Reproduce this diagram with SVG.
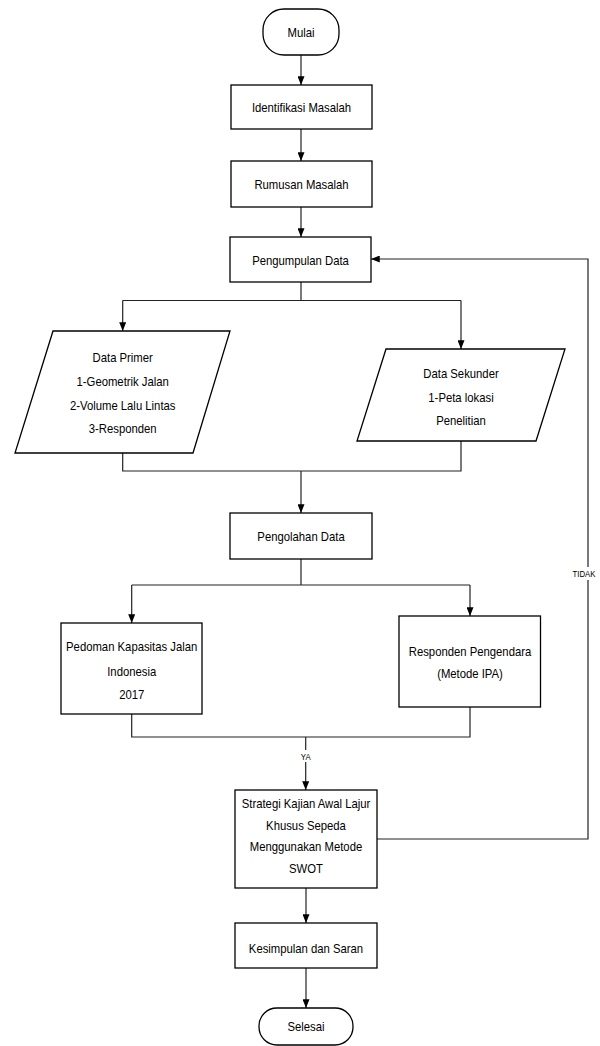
<svg xmlns="http://www.w3.org/2000/svg" width="600" height="1046" viewBox="0 0 600 1046">
<style>
.s{fill:#fff;stroke:#000;stroke-width:1.3}
.t{font-family:"Liberation Sans",Arial,sans-serif;font-size:13px;fill:#000;text-anchor:middle}
.sm{font-family:"Liberation Sans",Arial,sans-serif;font-size:9px;fill:#000;text-anchor:middle}
.c{fill:none;stroke:#222;stroke-width:1.2}
.a{marker-end:url(#ah)}
</style>
<defs>
<marker id="ah" viewBox="0 0 10 8" refX="10" refY="4" markerWidth="9" markerHeight="7" markerUnits="userSpaceOnUse" orient="auto">
<path d="M0,0 L10,4 L0,8 z" fill="#000"/>
</marker>
</defs>
<rect width="600" height="1046" fill="#fff"/>
<g id="connectors">
<path class="c a" d="M301,55 V85"/>
<path class="c a" d="M301,129 V161"/>
<path class="c a" d="M301,207 V237"/>
<path class="c" d="M301,282 V300.5 M122.7,300.5 H461"/>
<path class="c a" d="M122.7,300.5 V331"/>
<path class="c a" d="M461,300.5 V349"/>
<path class="c" d="M122.7,453 V471 H461 V441"/>
<path class="c a" d="M301,471 V513"/>
<path class="c" d="M301,559 V585 M131.7,585 H470"/>
<path class="c a" d="M131.7,585 V623"/>
<path class="c a" d="M470,585 V616"/>
<path class="c" d="M131.7,714 V737 H470 V707"/>
<path class="c a" d="M305.7,737 V790"/>
<path class="c a" d="M306,888 V923"/>
<path class="c a" d="M306,968 V1008"/>
<path class="c a" d="M377,839 H588 V259 H371"/>
<rect x="296" y="750" width="20" height="12" fill="#fff"/>
<text class="sm" transform="translate(305.7,760) scale(0.87,1)">YA</text>
<rect x="573" y="567" width="24" height="13" fill="#fff"/>
<text class="sm" transform="translate(584,577) scale(0.87,1)">TIDAK</text>
</g>
<g id="mulai">
<rect class="s" x="263" y="9" width="76" height="46" rx="21" ry="21"/>
<text class="t" transform="translate(301,37) scale(0.87,1)">Mulai</text>
</g>
<g id="identifikasi">
<rect class="s" x="231" y="85" width="141" height="44"/>
<text class="t" transform="translate(301.5,112) scale(0.87,1)">Identifikasi Masalah</text>
</g>
<g id="rumusan">
<rect class="s" x="231" y="161" width="141" height="46"/>
<text class="t" transform="translate(301.5,188.5) scale(0.87,1)">Rumusan Masalah</text>
</g>
<g id="pengumpulan">
<rect class="s" x="230" y="237" width="141" height="45"/>
<text class="t" transform="translate(300.5,264.5) scale(0.87,1)">Pengumpulan Data</text>
</g>
<g id="primer">
<polygon class="s" points="53,331 230,331 193,453 15,453"/>
<text class="t" transform="translate(122.7,361.5) scale(0.87,1)">Data Primer</text>
<text class="t" transform="translate(122.7,386) scale(0.87,1)">1-Geometrik Jalan</text>
<text class="t" transform="translate(122.7,409.5) scale(0.87,1)">2-Volume Lalu Lintas</text>
<text class="t" transform="translate(122.7,432.5) scale(0.87,1)">3-Responden</text>
</g>
<g id="sekunder">
<polygon class="s" points="386,349 565,349 536,441 357,441"/>
<text class="t" transform="translate(461,377.5) scale(0.87,1)">Data Sekunder</text>
<text class="t" transform="translate(461,401.5) scale(0.87,1)">1-Peta lokasi</text>
<text class="t" transform="translate(461,425) scale(0.87,1)">Penelitian</text>
</g>
<g id="pengolahan">
<rect class="s" x="230" y="513" width="142" height="46"/>
<text class="t" transform="translate(301,541) scale(0.87,1)">Pengolahan Data</text>
</g>
<g id="pedoman">
<rect class="s" x="61" y="623" width="141" height="91"/>
<text class="t" transform="translate(131.7,651) scale(0.87,1)">Pedoman Kapasitas Jalan</text>
<text class="t" transform="translate(131.7,675.5) scale(0.87,1)">Indonesia</text>
<text class="t" transform="translate(131.7,698.5) scale(0.87,1)">2017</text>
</g>
<g id="responden">
<rect class="s" x="399" y="616" width="141.5" height="91"/>
<text class="t" transform="translate(470,656) scale(0.87,1)">Responden Pengendara</text>
<text class="t" transform="translate(470,678) scale(0.87,1)">(Metode IPA)</text>
</g>
<g id="swot">
<rect class="s" x="235" y="790" width="142" height="98"/>
<text class="t" transform="translate(306,807.5) scale(0.87,1)">Strategi Kajian Awal Lajur</text>
<text class="t" transform="translate(306,829.5) scale(0.87,1)">Khusus Sepeda</text>
<text class="t" transform="translate(306,851) scale(0.87,1)">Menggunakan Metode</text>
<text class="t" transform="translate(306,872.5) scale(0.87,1)">SWOT</text>
</g>
<g id="kesimpulan">
<rect class="s" x="235" y="923" width="142" height="45"/>
<text class="t" transform="translate(306,952.5) scale(0.87,1)">Kesimpulan dan Saran</text>
</g>
<g id="selesai">
<rect class="s" x="259" y="1008" width="94" height="37" rx="18" ry="18"/>
<text class="t" transform="translate(306,1031) scale(0.87,1)">Selesai</text>
</g>
</svg>
